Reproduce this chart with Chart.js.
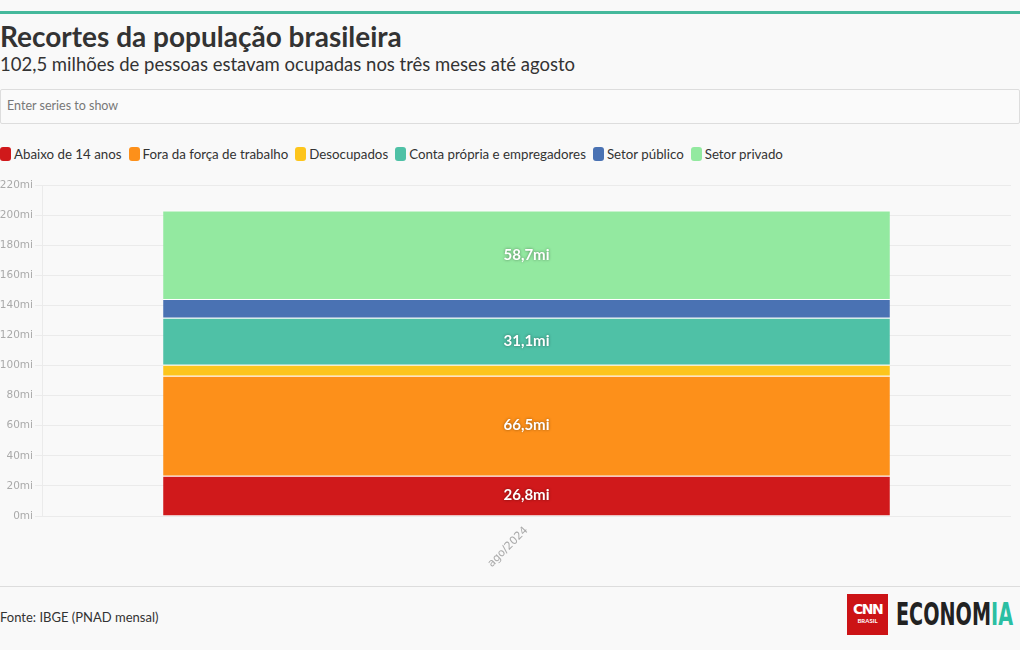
<!DOCTYPE html>
<html>
<head>
<meta charset="utf-8">
<script src="https://cdn.jsdelivr.net/npm/chart.js@4.4.1/dist/chart.umd.min.js"></script>
<style>
  html, body { margin: 0; padding: 0; background: #f9f9f9; }
  body { width: 1020px; height: 650px; position: relative; overflow: hidden; font-family: 'Lato', 'Open Sans', sans-serif; color: #333; }
  .topline { position: absolute; left: 0; top: 11px; width: 1020px; height: 3px; background: #45b99c; }
  h1 { position: absolute; left: 0; top: 19px; margin: 0; font-size: 28px; font-weight: 700; color: #333; letter-spacing: 0px; }
  .sub { position: absolute; left: 0; top: 53px; font-size: 18.5px; color: #333; }
  .search { position: absolute; left: 0; top: 89px; width: 1018px; height: 33px; border: 1px solid #ddd; border-radius: 2px; background: #fafafa; }
  .search span { position: absolute; left: 6px; top: 8px; font-size: 12.5px; color: #777; }
  .legend { position: absolute; left: 0; top: 146px; display: flex; font-size: 13.3px; color: #333; white-space: nowrap; }
  .legend .item { display: flex; align-items: center; margin-right: 7px; }
  .legend .sw { width: 11px; height: 14px; border-radius: 3px; margin-right: 3px; }
  #wrap { position: absolute; left: 0; top: 175px; width: 1020px; height: 405px; }
  .foot { position: absolute; left: 0; top: 586px; width: 1020px; height: 1px; background: #ddd; }
  .src { position: absolute; left: 0; top: 609px; font-size: 13px; color: #333; }
  .cnn { position: absolute; left: 847px; top: 594px; width: 41px; height: 41px; background: #cc1316; color: #fff; text-align: center; }
  .cnn b { display: block; font-family: 'DejaVu Sans', sans-serif; font-size: 14px; letter-spacing: -1.5px; margin-top: 8px; line-height: 15px; }
  .cnn i { display: block; font-style: normal; font-size: 6px; font-weight: 700; line-height: 8px; }
  .eco { position: absolute; left: 896px; top: 596px; font-family: 'DejaVu Sans', sans-serif; font-weight: 700; font-size: 32px; line-height: 36px; color: #222; transform: scaleX(0.6); transform-origin: left top; }
  .eco em { font-style: normal; color: #2bbfa3; }
</style>
</head>
<body>
<div class="topline"></div>
<h1>Recortes da população brasileira</h1>
<div class="sub">102,5 milhões de pessoas estavam ocupadas nos três meses até agosto</div>
<div class="search"><span>Enter series to show</span></div>
<div class="legend" id="legend"></div>
<div id="wrap"><canvas id="chart" width="1020" height="405"></canvas></div>
<div class="foot"></div>
<div class="src">Fonte: IBGE (PNAD mensal)</div>
<div class="cnn"><b>CNN</b><i>BRASIL</i></div>
<div class="eco">ECONOM<em>IA</em></div>

<script>
// Values in millions of people, three months to August 2024
const CATEGORIES = ['ago/2024'];
const SERIES_NAMES = ['Abaixo de 14 anos', 'Fora da força de trabalho', 'Desocupados',
  'Conta própria e empregadores', 'Setor público', 'Setor privado'];
const SERIES_COLORS = ['#d0191b', '#fd901a', '#fdc51c', '#4fc1a6', '#4a72b3', '#93e9a0'];
const ABAIXO_14 = [26.8];
const FORA_FORCA = [66.5];
const DESOCUPADOS = [7.3];
const CONTA_PROPRIA = [31.1];
const SETOR_PUBLICO = [12.6];
const SETOR_PRIVADO = [58.7];
const Y_TICKS = [0, 20, 40, 60, 80, 100, 120, 140, 160, 180, 200, 220];

const seriesValues = [ABAIXO_14, FORA_FORCA, DESOCUPADOS, CONTA_PROPRIA, SETOR_PUBLICO, SETOR_PRIVADO];

// html legend, same look as the original widget
const legendEl = document.getElementById('legend');
SERIES_NAMES.forEach((name, i) => {
  const item = document.createElement('div');
  item.className = 'item';
  item.innerHTML = `<span class="sw" style="background:${SERIES_COLORS[i]}"></span>${name}`;
  legendEl.appendChild(item);
});

const fmt = (v) => v.toFixed(1).replace('.', ',') + 'mi';

// only the bigger segments get a value label
const segmentLabels = {
  id: 'segmentLabels',
  afterDatasetsDraw(chart) {
    const ctx = chart.ctx;
    ctx.save();
    ctx.font = 'bold 15px Lato, sans-serif';
    ctx.textAlign = 'center';
    ctx.textBaseline = 'middle';
    chart.data.datasets.forEach((ds, di) => {
      chart.getDatasetMeta(di).data.forEach((bar, i) => {
        const v = ds.data[i];
        if (v < 20) return;
        const y = (bar.y + bar.base) / 2;
        ctx.shadowColor = 'rgba(0,0,0,0.45)';
        ctx.shadowBlur = 3;
        ctx.fillStyle = '#fff';
        ctx.fillText(fmt(v), bar.x, y);
      });
    });
    ctx.restore();
  }
};

new Chart(document.getElementById('chart'), {
  type: 'bar',
  data: {
    labels: CATEGORIES,
    datasets: SERIES_NAMES.map((name, i) => ({
      label: name,
      data: seriesValues[i],
      backgroundColor: SERIES_COLORS[i],
      borderColor: '#ffffff',
      borderWidth: { top: 1, bottom: 0, left: 0, right: 0 },
      borderSkipped: false,
      barPercentage: 0.75,
      categoryPercentage: 1,
    })),
  },
  options: {
    responsive: false,
    animation: false,
    layout: { padding: { top: 10, right: 9, left: 0, bottom: 0 } },
    plugins: { legend: { display: false }, tooltip: { enabled: false } },
    scales: {
      x: {
        stacked: true,
        grid: { display: false },
        border: { display: false },
        ticks: { color: '#aaa', font: { family: 'DejaVu Sans', size: 11 }, minRotation: 45, maxRotation: 45, padding: 0 },
        afterFit: (s) => { s.height = 64; },
      },
      y: {
        stacked: true,
        min: 0,
        max: 220,
        afterBuildTicks: (s) => { s.ticks = Y_TICKS.map((v) => ({ value: v })); },
        grid: { color: '#ebebeb', tickLength: 7 },
        border: { color: '#ebebeb' },
        ticks: { color: '#aaa', font: { family: 'DejaVu Sans', size: 10.5 }, padding: 2, callback: (v) => v + 'mi' },
        afterFit: (s) => { s.width = 42; },
      },
    },
  },
  plugins: [segmentLabels],
});
</script>
</body>
</html>
